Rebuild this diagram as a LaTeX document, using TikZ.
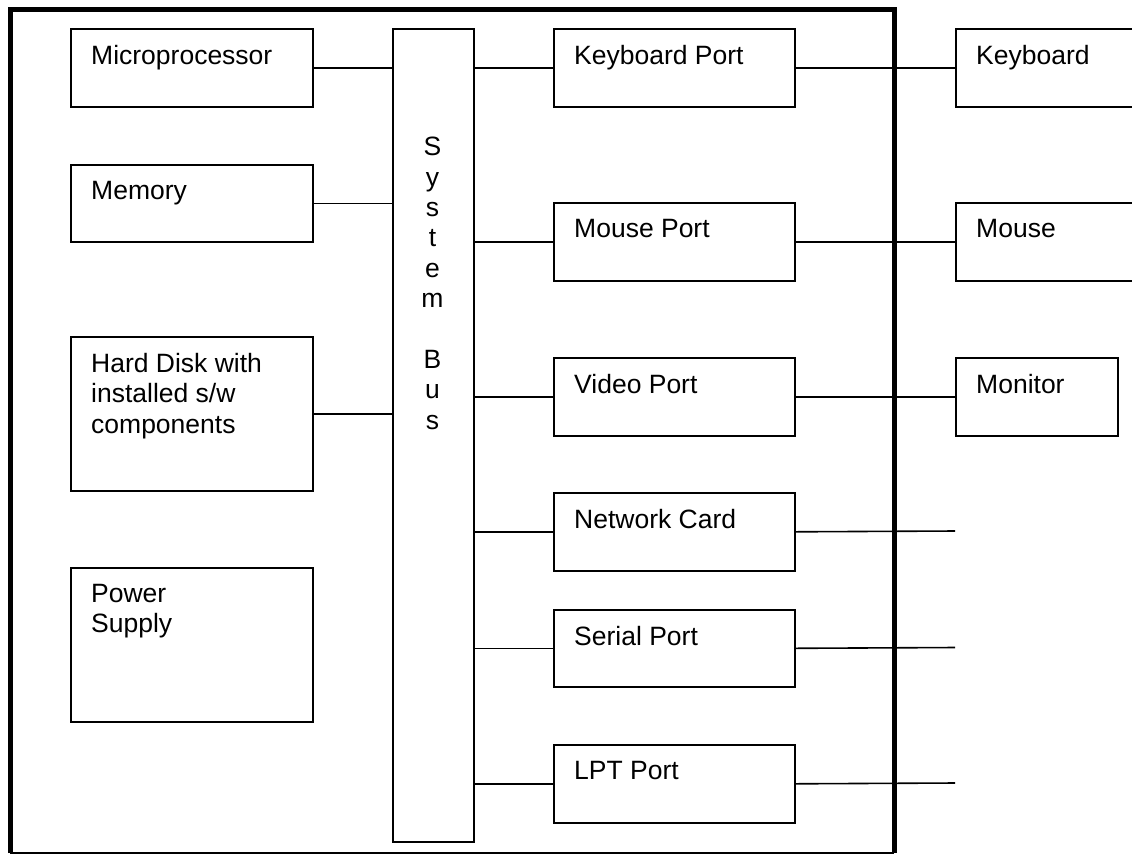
\documentclass[tikz,border=0pt]{standalone}
\usepackage{fontspec}
\setmainfont{Liberation Sans}
\begin{document}
\begin{tikzpicture}[x=1pt,y=-1pt,
  box/.style={draw, line width=1.6pt, inner sep=0pt, anchor=north west},
  lbl/.style={anchor=north west, inner sep=0pt, align=left, font=\fontsize{26.5}{30.4}\selectfont},
  wire/.style={line width=1.6pt}]
\path[use as bounding box] (0,0) rectangle (1132,855);
\clip (0,0) rectangle (1132,855);
\fill[white] (0,0) rectangle (1132,855);
% outer frame
\draw[line width=5pt] (10,853) -- (10,9) -- (894,9) -- (894,853);
\draw[line width=1.6pt] (10,853) -- (894,853);
% left column
\node[box, minimum width=242pt, minimum height=78pt] (micro) at (70,28) {};
\node[box, minimum width=242pt, minimum height=77pt] (mem) at (70,164) {};
\node[box, minimum width=242pt, minimum height=154pt] (hd) at (70,336) {};
\node[box, minimum width=242pt, minimum height=154pt] (ps) at (70,567) {};
% bus
\node[box, minimum width=81pt, minimum height=813pt] (bus) at (392,28) {};
% ports
\node[box, minimum width=241pt, minimum height=78pt] (kp) at (553,28) {};
\node[box, minimum width=241pt, minimum height=78pt] (mp) at (553,202) {};
\node[box, minimum width=241pt, minimum height=78pt] (vp) at (553,357) {};
\node[box, minimum width=241pt, minimum height=78pt] (nc) at (553,492) {};
\node[box, minimum width=241pt, minimum height=77pt] (sp) at (553,609) {};
\node[box, minimum width=241pt, minimum height=78pt] (lpt) at (553,744) {};
% devices
\node[box, minimum width=200pt, minimum height=78pt] (kb) at (955,28) {};
\node[box, minimum width=200pt, minimum height=78pt] (ms) at (955,202) {};
\node[box, minimum width=162pt, minimum height=78pt] (mon) at (955,357) {};
% labels
\node[lbl] (microt) at ([shift={(21pt,-17pt)}]micro.north west) {Microprocessor};
\node[lbl] (memt) at ([shift={(21pt,-17pt)}]mem.north west) {Memory};
\node[lbl] (hdt) at ([shift={(21pt,-17pt)}]hd.north west) {Hard Disk with\\installed s/w\\components};
\node[lbl] (pst) at ([shift={(21pt,-17pt)}]ps.north west) {Power\\Supply};
\node[lbl] (kpt) at ([shift={(21pt,-17pt)}]kp.north west) {Keyboard Port};
\node[lbl] (mpt) at ([shift={(21pt,-17pt)}]mp.north west) {Mouse Port};
\node[lbl] (vpt) at ([shift={(21pt,-17pt)}]vp.north west) {Video Port};
\node[lbl] (nct) at ([shift={(21pt,-17pt)}]nc.north west) {Network Card};
\node[lbl] (spt) at ([shift={(21pt,-17pt)}]sp.north west) {Serial Port};
\node[lbl] (lptt) at ([shift={(21pt,-17pt)}]lpt.north west) {LPT Port};
\node[lbl] (kbt) at ([shift={(21pt,-17pt)}]kb.north west) {Keyboard};
\node[lbl] (mst) at ([shift={(21pt,-17pt)}]ms.north west) {Mouse};
\node[lbl] (mont) at ([shift={(21pt,-17pt)}]mon.north west) {Monitor};
\node[anchor=north, inner sep=0pt, align=center, font=\fontsize{26.5}{30.4}\selectfont] (bust) at (432.5,137) {S\\y\\s\\t\\e\\m\\[30.4pt]B\\u\\s};
% connectors left
\draw[wire] (micro.east) -- (micro.east -| bus.west);
\draw[wire] (mem.east) -- (mem.east -| bus.west);
\draw[wire] (hd.east) -- (hd.east -| bus.west);
% connectors right
\foreach \p in {kp,mp,vp,nc,sp,lpt}{
  \draw[wire] (\p.west -| bus.east) -- (\p.west);
}
\draw[wire] (kp.east) -- (kb.west);
\draw[wire] (mp.east) -- (ms.west);
\draw[wire] (vp.east) -- (mon.west);
\coordinate (ncend) at (955,531);
\coordinate (spend) at (955,647.5);
\coordinate (lptend) at (955,783);
\draw[wire] (nc.east) -- (ncend);
\draw[wire] (sp.east) -- (spend);
\draw[wire] (lpt.east) -- (lptend);
\end{tikzpicture}
\end{document}
